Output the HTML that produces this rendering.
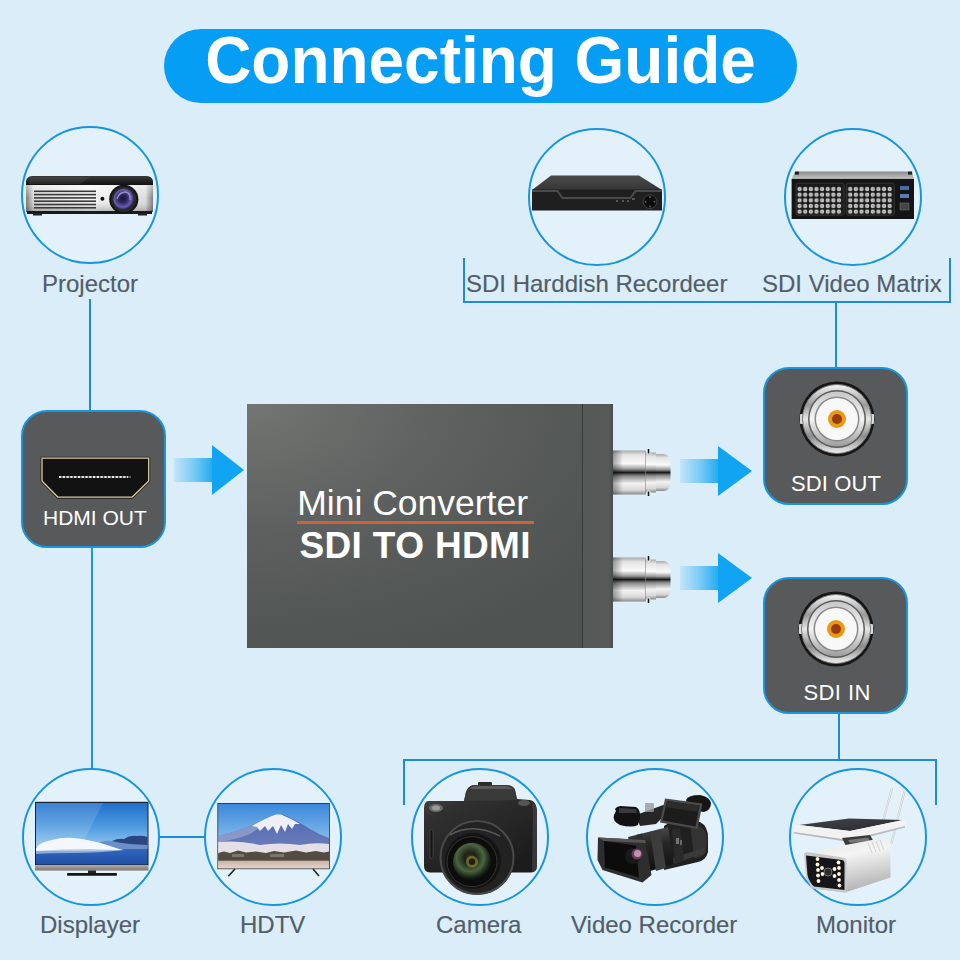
<!DOCTYPE html>
<html><head><meta charset="utf-8">
<style>
*{margin:0;padding:0;box-sizing:border-box}
html,body{width:960px;height:960px;overflow:hidden}
body{position:relative;background:#DAEDF8;font-family:"Liberation Sans",sans-serif}
.a{position:absolute}
.ln{position:absolute;background:#1E8BDA}
.lbl{position:absolute;font-size:24px;line-height:24px;color:#525D67;white-space:nowrap;-webkit-text-stroke:0.15px #525D67}
.circ{position:absolute;width:138px;height:138px;border-radius:50%;border:2.8px solid #1595E2;background:#E3F1FA}
.box{position:absolute;width:145px;height:138px;border-radius:26px;border:2.6px solid #1A95DF;background:#57595A}
.wl{position:absolute;font-size:21px;line-height:21px;color:#fff;white-space:nowrap}
svg{position:absolute;overflow:visible}
</style></head><body>

<!-- title -->
<div class="a" style="left:164px;top:29px;width:633px;height:74px;border-radius:37px;background:#069DF4"></div>
<div class="a" style="left:164px;top:23px;width:633px;height:74px;line-height:74px;text-align:center;color:#fff;font-weight:bold;font-size:66px;transform:scaleX(0.969)">Connecting Guide</div>

<!-- lines -->
<div class="ln" style="left:89px;top:299px;width:2px;height:112px"></div>
<div class="ln" style="left:90.5px;top:546px;width:2px;height:224px;background:#1C96E2"></div>
<div class="ln" style="left:463px;top:258px;width:2px;height:45px"></div>
<div class="ln" style="left:463px;top:301px;width:487px;height:2px"></div>
<div class="ln" style="left:949px;top:258px;width:2px;height:45px"></div>
<div class="ln" style="left:835px;top:301px;width:2px;height:67px"></div>
<div class="ln" style="left:159px;top:836px;width:47px;height:2px"></div>
<div class="ln" style="left:403px;top:759px;width:534px;height:2px"></div>
<div class="ln" style="left:403px;top:759px;width:2px;height:46px"></div>
<div class="ln" style="left:935px;top:759px;width:2px;height:46px"></div>
<div class="ln" style="left:838px;top:713px;width:2px;height:47px"></div>

<!-- circles -->
<div class="circ" style="left:21px;top:125.5px"></div>
<div class="circ" style="left:528px;top:128px"></div>
<div class="circ" style="left:784px;top:127.6px"></div>
<div class="circ" style="left:22px;top:768px"></div>
<div class="circ" style="left:204px;top:768px"></div>
<div class="circ" style="left:411px;top:768px"></div>
<div class="circ" style="left:586px;top:768px"></div>
<div class="circ" style="left:789px;top:768px"></div>

<!-- labels -->
<div class="lbl" style="left:42px;top:272px">Projector</div>
<div class="lbl" style="left:466px;top:272px">SDI Harddish Recordeer</div>
<div class="lbl" style="left:762px;top:272px">SDI Video Matrix</div>
<div class="lbl" style="left:40px;top:913px">Displayer</div>
<div class="lbl" style="left:240px;top:913px">HDTV</div>
<div class="lbl" style="left:436px;top:913px">Camera</div>
<div class="lbl" style="left:571px;top:913px">Video Recorder</div>
<div class="lbl" style="left:816px;top:913px">Monitor</div>

<!-- HDMI OUT box -->
<div class="box" style="left:21px;top:410px;height:138px"></div>
<svg style="left:0;top:0" width="960" height="960">
  <path d="M42,458.2 L148.7,458.2 L148.7,481 L132,497.2 L58,497.2 L42,481 Z" fill="#121212" stroke="#1a1a1a" stroke-width="3" stroke-linejoin="round"/>
  <path d="M42,458.2 L148.7,458.2 L148.7,481 L132,497.2 L58,497.2 L42,481 Z" fill="#121212" stroke="#DCCBA2" stroke-width="1.3" stroke-linejoin="round"/>
  <line x1="59" y1="477" x2="131" y2="477" stroke="#555" stroke-width="2.2"/>
  <line x1="59" y1="477" x2="128" y2="477" stroke="#e8e8e8" stroke-width="2" stroke-dasharray="2.2 1.58"/>
</svg>
<div class="wl" style="left:43px;top:507px;font-size:21px">HDMI OUT</div>

<!-- device -->
<div class="a" style="left:247px;top:404px;width:366px;height:244px;background:radial-gradient(ellipse 120% 110% at 0% 0%,#737573 0%,#5E615F 45%,#545857 75%,#4F5352 100%)"></div>
<div class="a" style="left:582px;top:404px;width:1px;height:244px;background:#3A3C3C"></div>
<div class="a" style="left:583px;top:404px;width:30px;height:244px;background:linear-gradient(90deg,#555958,#575A59 85%,#4A4D4D)"></div>
<div class="a" style="left:297.2px;top:486.3px;color:#fff;font-size:35.5px;line-height:35px;white-space:nowrap">Mini Converter</div>
<div class="a" style="left:297px;top:521.3px;width:237px;height:2.6px;background:#CC6438"></div>
<div class="a" style="left:299.5px;top:527px;color:#fff;font-weight:bold;font-size:37px;line-height:37px;white-space:nowrap;letter-spacing:0.35px">SDI TO HDMI</div>

<!-- BNC connectors -->
<svg style="left:0;top:0" width="960" height="960">
  <defs>
    <linearGradient id="chrome" x1="0" y1="0" x2="0" y2="1">
      <stop offset="0" stop-color="#a8a8a8"/>
      <stop offset="0.1" stop-color="#e4e4e4"/>
      <stop offset="0.3" stop-color="#fafafa"/>
      <stop offset="0.42" stop-color="#9a9a9a"/>
      <stop offset="0.5" stop-color="#1a1a1a"/>
      <stop offset="0.58" stop-color="#8a8a8a"/>
      <stop offset="0.75" stop-color="#f2f2f2"/>
      <stop offset="0.9" stop-color="#d8d8d8"/>
      <stop offset="1" stop-color="#8a8a8a"/>
    </linearGradient>
    <linearGradient id="bncShade" x1="0" y1="0" x2="1" y2="0">
      <stop offset="0" stop-color="#000" stop-opacity="0.35"/><stop offset="1" stop-color="#000" stop-opacity="0"/>
    </linearGradient>
    <linearGradient id="arrowg" x1="0" y1="0" x2="1" y2="0">
      <stop offset="0" stop-color="#C4E5F9"/>
      <stop offset="0.5" stop-color="#7CCBF5"/>
      <stop offset="1" stop-color="#22AAF3"/>
    </linearGradient>
  </defs>
  <g id="bnc1">
    <rect x="613" y="450.5" width="33" height="44" fill="url(#chrome)"/>
    <rect x="613" y="450.5" width="10" height="44" fill="url(#bncShade)"/>
    <rect x="645" y="452.5" width="11" height="40" fill="url(#chrome)"/>
    <rect x="645" y="452.5" width="1" height="40" fill="#888" opacity="0.6"/>
    <path d="M656,454 L664,454 Q670,455 670.5,462 L670.5,483 Q670,490 664,491 L656,491 Z" fill="url(#chrome)"/>
    <rect x="646.5" y="448.5" width="4" height="6" rx="1.5" fill="#f0f0f0"/>
    <rect x="647.7" y="449" width="1.6" height="4.5" fill="#111"/>
    <rect x="646.5" y="490.5" width="4" height="6" rx="1.5" fill="#f0f0f0"/>
    <rect x="647.7" y="491.5" width="1.6" height="4.5" fill="#111"/>
  </g>
  <use href="#bnc1" y="107"/>
  <!-- arrows -->
  <path d="M174,458 L213,458 L213,482 L174,482 Z" fill="url(#arrowg)"/>
  <path d="M212,445 L244,470 L212,495 Z" fill="#10A4F3"/>
  <path d="M680,459 L719,459 L719,483 L680,483 Z" fill="url(#arrowg)"/>
  <path d="M718,446 L752,471 L718,496 Z" fill="#10A4F3"/>
  <path d="M680,566 L719,566 L719,590 L680,590 Z" fill="url(#arrowg)"/>
  <path d="M718,553 L752,578 L718,603 Z" fill="#10A4F3"/>
</svg>

<!-- SDI boxes -->
<div class="box" style="left:763px;top:367px;height:138px"></div>
<div class="box" style="left:763px;top:577px;height:137px"></div>
<svg style="left:0;top:0" width="960" height="960">
  <defs>
    <linearGradient id="silv" x1="0" y1="0" x2="0" y2="1">
      <stop offset="0" stop-color="#f4f4f4"/>
      <stop offset="0.3" stop-color="#9a9a9a"/>
      <stop offset="0.5" stop-color="#e8e8e8"/>
      <stop offset="0.75" stop-color="#8c8c8c"/>
      <stop offset="1" stop-color="#f0f0f0"/>
    </linearGradient>
    <linearGradient id="silv2" x1="0" y1="0" x2="0" y2="1">
      <stop offset="0" stop-color="#c8c8c8"/>
      <stop offset="0.5" stop-color="#f4f4f4"/>
      <stop offset="1" stop-color="#9c9c9c"/>
    </linearGradient>
    <g id="port">
      <circle r="37.5" fill="#161616"/>
      <rect x="-37" y="-5" width="4" height="10" rx="1" fill="#d8d8d8"/>
      <rect x="33" y="-5" width="4" height="10" rx="1" fill="#d8d8d8"/>
      <circle r="34.5" fill="url(#silv)"/>
      <circle r="34.5" fill="none" stroke="#7a7a7a" stroke-width="1"/>
      <circle r="29" fill="#5a5a5a"/>
      <circle r="27.5" fill="url(#silv2)"/>
      <circle r="22.5" fill="#8a8a8a"/>
      <circle r="21" fill="#f8f8f8"/>
      <circle r="9" fill="#E99A12"/>
      <circle r="5" fill="#9A3A12"/>
    </g>
  </defs>
  <use href="#port" x="837" y="419"/>
  <use href="#port" x="836" y="629"/>
</svg>
<div class="wl" style="left:791px;top:473px;font-size:22px;letter-spacing:0.1px">SDI OUT</div>
<div class="wl" style="left:803.5px;top:682px;font-size:22px;letter-spacing:0.4px">SDI IN</div>


<!-- product icons -->
<svg style="left:0;top:0" width="960" height="960">
  <defs>
    <linearGradient id="pjTop" x1="0" y1="0" x2="0" y2="1">
      <stop offset="0" stop-color="#3a3a3a"/><stop offset="1" stop-color="#0c0c0c"/>
    </linearGradient>
    <linearGradient id="pjBody" x1="0" y1="0" x2="1" y2="0">
      <stop offset="0" stop-color="#777"/><stop offset="0.06" stop-color="#d8d8d8"/>
      <stop offset="0.5" stop-color="#f4f4f4"/><stop offset="0.94" stop-color="#dcdcdc"/><stop offset="1" stop-color="#7a7a7a"/>
    </linearGradient>
    <linearGradient id="pjShade" x1="0" y1="0" x2="0" y2="1">
      <stop offset="0" stop-color="#fff" stop-opacity="0.5"/><stop offset="0.5" stop-color="#fff" stop-opacity="0"/><stop offset="1" stop-color="#000" stop-opacity="0.25"/>
    </linearGradient>
    <radialGradient id="pjLens" cx="0.45" cy="0.45" r="0.6">
      <stop offset="0" stop-color="#181530"/><stop offset="0.35" stop-color="#2e2860"/><stop offset="0.7" stop-color="#6a5cb0"/><stop offset="0.9" stop-color="#2a2450"/><stop offset="1" stop-color="#100c18"/>
    </radialGradient>
  </defs>
  <!-- projector -->
  <path d="M26,186 L26,181 Q27,176 33,176 L146,176 Q152,176 153,181 L153,186 Z" fill="url(#pjTop)"/>
  <path d="M30,177 L90,177 Q85,181 80,184 L28,184 Z" fill="#fff" opacity="0.08"/>
  <rect x="26" y="185" width="127" height="27" fill="url(#pjBody)"/>
  <rect x="26" y="185" width="127" height="27" fill="url(#pjShade)"/>
  <rect x="27" y="211" width="125" height="3" fill="#1a1a1a"/>
  <rect x="33" y="213" width="9" height="2.5" fill="#222"/>
  <rect x="138" y="213" width="9" height="2.5" fill="#222"/>
  <g fill="#3a3a3a">
    <rect x="34" y="190.5" width="62" height="1.6"/><rect x="34" y="193.8" width="62" height="1.6"/>
    <rect x="34" y="197.1" width="62" height="1.6"/><rect x="34" y="200.4" width="62" height="1.6"/>
    <rect x="34" y="203.7" width="62" height="1.6"/><rect x="34" y="207" width="62" height="1.6"/>
  </g>
  <circle cx="102.4" cy="198.8" r="2" fill="#111"/>
  <circle cx="123.8" cy="199.3" r="14.6" fill="#151515"/>
  <circle cx="123.8" cy="199.3" r="12.5" fill="#2a2a2a"/>
  <circle cx="123.8" cy="199.3" r="10.5" fill="url(#pjLens)"/>
  <path d="M117,199 Q119,192 126,192 Q131,194 130,200" stroke="#c0b0f0" stroke-width="1.3" fill="none" opacity="0.7"/>

  <!-- DVR -->
  <defs><linearGradient id="dvrTop" x1="0" y1="0" x2="0" y2="1"><stop offset="0" stop-color="#4a4a4a"/><stop offset="1" stop-color="#363636"/></linearGradient></defs>
  <path d="M551,175.5 L639,175.5 L662,190 L532,190 Z" fill="url(#dvrTop)"/>
  <rect x="532" y="189.5" width="130" height="21" fill="#1f1f1f"/>
  <path d="M532,190 L558,190 L563,197 L630,197 L635,190 L662,190 L662,192 L636,192 L631,199 L562,199 L557,192 L532,192 Z" fill="#4a4a4a"/>
  <circle cx="650" cy="201.7" r="6.8" fill="#0d0d0d" stroke="#4a4a4a" stroke-width="0.8"/>
  <g fill="#666"><circle cx="650" cy="197" r="0.9"/><circle cx="650" cy="206.4" r="0.9"/><circle cx="645.5" cy="201.7" r="0.9"/><circle cx="654.5" cy="201.7" r="0.9"/></g>
  <g fill="#555"><rect x="616" y="200" width="2" height="2"/><rect x="622" y="200" width="2" height="2"/><rect x="627" y="200" width="2" height="2"/><rect x="632" y="198" width="3" height="2"/></g>

  <!-- video matrix -->
  <defs>
    <linearGradient id="mxTop" x1="0" y1="0" x2="0" y2="1">
      <stop offset="0" stop-color="#8a8a8a"/><stop offset="1" stop-color="#c4c4c4"/>
    </linearGradient>
    <pattern id="mxDots" x="796.8" y="186.2" width="5.63" height="5.65" patternUnits="userSpaceOnUse">
      <circle cx="2.8" cy="2.8" r="2.15" fill="#cfcfcf"/>
      <circle cx="2.8" cy="2.8" r="0.7" fill="#6a6a6a"/>
    </pattern>
  </defs>
  <path d="M795,171.6 L912,171.6 L914,179 L791.6,179 Z" fill="url(#mxTop)"/>
  <rect x="795" y="171.6" width="4" height="3" fill="#222"/><rect x="908" y="171.6" width="4" height="3" fill="#222"/>
  <rect x="791.6" y="178.9" width="122.4" height="40.1" fill="#141414"/>
  <rect x="796" y="183.2" width="48" height="32" rx="2" fill="#1a1a1a" stroke="#555" stroke-width="0.5"/>
  <rect x="846.3" y="183.2" width="48" height="32" rx="2" fill="#1a1a1a" stroke="#555" stroke-width="0.5"/>
  <rect x="796.8" y="186.2" width="45.1" height="28.3" fill="url(#mxDots)"/>
  <rect x="847.2" y="186.2" width="45.1" height="28.3" fill="url(#mxDots)" transform="translate(0,0)"/>
  <rect x="900" y="186" width="9" height="4" fill="#4a6aa8"/>
  <rect x="900" y="194" width="9" height="4" fill="#5a7ab8"/>
  <rect x="900" y="203" width="9" height="7" fill="#444" stroke="#777" stroke-width="0.5"/>

  <!-- displayer -->
  <defs>
    <linearGradient id="dpSky" x1="0" y1="0" x2="0" y2="1">
      <stop offset="0" stop-color="#1F6FCC"/><stop offset="0.5" stop-color="#4C98DE"/><stop offset="1" stop-color="#95C9F0"/>
    </linearGradient>
    <linearGradient id="dpSea" x1="0" y1="0" x2="0" y2="1">
      <stop offset="0" stop-color="#3468C0"/><stop offset="1" stop-color="#1F4FA6"/>
    </linearGradient>
    <linearGradient id="dpBez" x1="0" y1="0" x2="0" y2="1">
      <stop offset="0" stop-color="#b4aea6"/><stop offset="1" stop-color="#7c7670"/>
    </linearGradient>
  </defs>
  <rect x="35" y="801.8" width="113.5" height="63.7" fill="#1a2230"/>
  <rect x="36" y="803" width="111.5" height="45" fill="url(#dpSky)"/>
  <path d="M36,803 L103,803 L72,864 L36,864 Z" fill="#fff" opacity="0.13"/>
  <rect x="36" y="847" width="111.5" height="17.5" fill="url(#dpSea)"/>
  <path d="M112,841 Q118,838 124,839 Q130,834.5 137,836 Q142,835 147.5,837 L147.5,848 L108,848 Z" fill="#2a4680"/>
  <path d="M100,842 Q106,840 112,841 Q120,843 130,844 L147.5,845 L147.5,849 L100,849 Z" fill="#6d8fc8"/>
  <path d="M36,848 Q40,842 52,840 Q62,837 74,838 Q84,839 92,841 Q102,843 110,846 Q118,849 124,850 L90,851 Q60,851 36,851 Z" fill="#f4f7fb"/>
  <path d="M36,851 Q60,849 90,849 Q110,850 124,850 Q100,853 70,853 Q50,853 36,854 Z" fill="#a8bfe0" opacity="0.8"/>
  <rect x="35" y="865" width="113.5" height="5.5" fill="url(#dpBez)"/>
  <rect x="88" y="870.5" width="8" height="3" fill="#222"/>
  <rect x="67" y="873" width="50" height="2.7" rx="1" fill="#151515"/>

  <!-- HDTV -->
  <defs>
    <linearGradient id="tvSky" x1="0" y1="0" x2="0" y2="1">
      <stop offset="0" stop-color="#3A88DC"/><stop offset="0.5" stop-color="#7DB6E8"/><stop offset="1" stop-color="#BFD8EE"/>
    </linearGradient>
    <linearGradient id="tvMt" x1="0" y1="0" x2="0" y2="1">
      <stop offset="0" stop-color="#4E6AB6"/><stop offset="1" stop-color="#6E7CB8"/>
    </linearGradient>
    <linearGradient id="tvLake" x1="0" y1="0" x2="0" y2="1">
      <stop offset="0" stop-color="#C9B2A6"/><stop offset="1" stop-color="#E6D4C8"/>
    </linearGradient>
  </defs>
  <rect x="217.4" y="803.1" width="112.4" height="66.1" fill="#2a2a2e"/>
  <rect x="218.2" y="804" width="110.8" height="64.3" fill="url(#tvSky)"/>
  <path d="M218.2,836 Q235,832 250,826 Q265,819 275,815 L283,814.6 Q296,820 310,829 Q320,835 329,838 L329,850 L218.2,850 Z" fill="url(#tvMt)"/>
  <path d="M218.2,836 Q235,832 250,826 Q265,819 275,815 L279,815 Q262,826 250,834 Q235,840 218.2,842 Z" fill="#9aa6cc" opacity="0.7"/>
  <path d="M252,826 Q266,818 276,814.5 L281,814.5 Q290,818 300,824 L295,824 L292,829 L288,824 L285,832 L281,825 L277,834 L273,826 L268,831 L265,826 L260,831 L257,827 Z" fill="#eef0f8"/>
  <path d="M218.2,842 Q240,840 260,845 Q280,842 300,845 Q315,842 329,844 L329,854 L218.2,854 Z" fill="#e6dfe8"/>
  <path d="M218.2,853 L224,851.5 L230,853 L238,850.5 L246,852.5 L256,851.5 L266,853 L274,851 L284,852.5 L296,850.5 L306,852.5 L316,851 L324,852.5 L329,851.5 L329,861 L218.2,861 Z" fill="#544c42"/>
  <rect x="232" y="854" width="12" height="3" fill="#9a9088" opacity="0.6"/>
  <rect x="270" y="854" width="14" height="3" fill="#a89e94" opacity="0.5"/>
  <rect x="218.2" y="860.7" width="110.8" height="7.6" fill="url(#tvLake)"/>
  <path d="M235,869 L228.3,876.2" stroke="#222" stroke-width="1.6"/>
  <path d="M313,869 L319,876" stroke="#222" stroke-width="1.6"/>
</svg>


<!-- camera / camcorder / security cam -->
<svg style="left:0;top:0" width="960" height="960">
  <defs>
    <linearGradient id="camBody" x1="0" y1="0" x2="0.6" y2="1">
      <stop offset="0" stop-color="#505050"/><stop offset="0.3" stop-color="#303030"/><stop offset="1" stop-color="#1c1c1c"/>
    </linearGradient>
    <radialGradient id="camGlass" cx="0.45" cy="0.4" r="0.6">
      <stop offset="0" stop-color="#3a3a18"/><stop offset="0.25" stop-color="#1c2216"/><stop offset="0.6" stop-color="#4a6440"/><stop offset="0.85" stop-color="#1a2418"/><stop offset="1" stop-color="#0a0a0a"/>
    </radialGradient>
    <linearGradient id="secBody" x1="0" y1="0" x2="0" y2="1">
      <stop offset="0" stop-color="#d8d8d8"/><stop offset="0.35" stop-color="#f6f6f6"/><stop offset="1" stop-color="#c4c4c4"/>
    </linearGradient>
  </defs>
  <!-- DSLR -->
  <path d="M428,801 Q424,802 424,808 L424,866 Q424,872 430,872.5 L531,872.5 Q537,872 537,866 L537,810 Q536,801 530,800 L517,799 L515,790 Q513,785 505,785 L474,785 Q468,786 466,792 L464,801 Z" fill="url(#camBody)"/>
  <path d="M466,792 Q468,786 474,785 L505,785 Q513,785 515,790 L517,800 L464,801 Z" fill="#3a3a3a"/>
  <path d="M470,789 Q472,786 476,786 L504,786 Q510,786 512,789 Z" fill="#5a5a5a"/>
  <path d="M530,801 Q537,804 537,812 L537,866 Q536,871 532,872 L533,812 Q533,805 530,801 Z" fill="#4a4a4a" opacity="0.6"/>
  <rect x="478" y="782" width="14" height="3.5" rx="1" fill="#2a2a2a"/>
  <ellipse cx="436" cy="808" rx="7" ry="4" fill="#6a6a6a"/>
  <ellipse cx="436" cy="808" rx="4" ry="2.5" fill="#9a9a9a"/>
  <ellipse cx="524" cy="803" rx="6" ry="3" fill="#555"/>
  <rect x="430" y="830" width="3" height="28" rx="1.5" fill="#151515" stroke="#555" stroke-width="0.6"/>
  <circle cx="477" cy="857.5" r="37.5" fill="#222"/>
  <circle cx="477" cy="857.5" r="36.5" fill="none" stroke="#4a4a4a" stroke-width="2"/>
  <circle cx="473" cy="861" r="28" fill="#141414"/>
  <circle cx="472" cy="861.7" r="25" fill="#0c0c0c" stroke="#333" stroke-width="1"/>
  <circle cx="472" cy="861.7" r="19" fill="url(#camGlass)"/>
  <circle cx="472" cy="861.7" r="6" fill="#8a8030" opacity="0.7"/>
  <circle cx="472" cy="861.7" r="3.2" fill="#20200e"/>
  <path d="M450,835 Q472,822 500,836" stroke="#5a5a5a" stroke-width="1.5" fill="none"/>

  <!-- camcorder -->
  <defs>
    <linearGradient id="ccBarrel" x1="0" y1="0" x2="0" y2="1">
      <stop offset="0" stop-color="#4a4a4a"/><stop offset="0.35" stop-color="#262626"/><stop offset="1" stop-color="#0e0e0e"/>
    </linearGradient>
  </defs>
  <!-- body -->
  <path d="M664,826 Q672,819 690,820 L700,822 Q708,826 708,838 L708,852 Q706,860 698,862 L664,870 Z" fill="#202020"/>
  <path d="M690,822 Q707,826 707,840 L706,852 Q702,858 694,858 Z" fill="#333"/>
  <path d="M663,861 L704,848 L705,853 L665,867 Z" fill="#3a3a3a"/>
  <!-- barrel -->
  <path d="M628,837 L668,827 L674,864 L640,874 Z" fill="url(#ccBarrel)"/>
  <path d="M650,832 L660,829.5 L666,868 L656,871 Z" fill="#3c3c3c"/>
  <path d="M636,835 L642,833.5 L648,872 L641,874 Z" fill="#2e2e2e"/>
  <path d="M672,829 L680,828 L684,860 L675,863 Z" fill="#2a2a2a"/>
  <rect x="676" y="838" width="3" height="6" fill="#777"/>
  <rect x="680" y="840" width="2" height="5" fill="#666"/>
  <!-- handle + mic -->
  <path d="M636,815 L666,804 L670,810 L656,824 L640,826 Z" fill="#262626"/>
  <rect x="645" y="803" width="9" height="9" rx="1" fill="#9a9a9a" opacity="0.8"/>
  <path d="M616,811 Q613,808 620,806 L636,807 Q641,810 640,818 L638,825 Q632,828 620,825 Q612,821 614,815 Z" fill="#121212"/>
  <path d="M619,808 L636,809 L637,813 L619,813 Z" fill="#3a3a3a"/>
  <!-- eyepiece -->
  <path d="M686,800 Q688,795 700,795 Q710,797 711,803 Q711,810 704,812 L690,810 Z" fill="#161616"/>
  <!-- LCD -->
  <path d="M665,798.5 L702.5,803.5 L697.5,829 L660,822.5 Z" fill="#4a4a4a"/>
  <path d="M667,801 L699.5,805.5 L695.5,826.5 L662.5,820.5 Z" fill="#1c1c1c"/>
  <path d="M667,801 L699.5,805.5 L698,812 L665,807 Z" fill="#2c2c2c"/>
  <!-- hood -->
  <path d="M598,837.5 L645,840 L651.5,875 L642.5,882.5 L602.5,870 L597.5,860 Z" fill="#2e2e2e"/>
  <path d="M604,841 L636,845.5 L639,877.5 L605,867.5 Z" fill="#0c0c0c"/>
  <path d="M598,837.5 L645,840 L646,843 L604,841 Z" fill="#555"/>
  <circle cx="633" cy="856" r="8" fill="#1a1a1a"/>
  <circle cx="637" cy="854" r="5.5" fill="#6a3a58"/>
  <circle cx="637.5" cy="853.5" r="3.5" fill="#d8a8c8" opacity="0.8"/>
  <!-- security camera -->
  <defs>
    <linearGradient id="secBody2" x1="0" y1="0" x2="0.3" y2="1">
      <stop offset="0" stop-color="#e4e4e4"/><stop offset="0.4" stop-color="#f4f4f4"/><stop offset="0.75" stop-color="#d2d2d2"/><stop offset="1" stop-color="#b8b8b8"/>
    </linearGradient>
    <linearGradient id="panelTop" x1="0" y1="0" x2="1" y2="1">
      <stop offset="0" stop-color="#44464c"/><stop offset="1" stop-color="#26282c"/>
    </linearGradient>
  </defs>
  <line x1="892" y1="788" x2="883.4" y2="820" stroke="#c4c4c4" stroke-width="2"/>
  <line x1="904.5" y1="791" x2="891.4" y2="843.5" stroke="#c4c4c4" stroke-width="2"/>
  <line x1="892" y1="788" x2="883.4" y2="820" stroke="#f4f4f4" stroke-width="0.9"/>
  <line x1="904.5" y1="791" x2="891.4" y2="843.5" stroke="#f4f4f4" stroke-width="0.9"/>
  <path d="M799,825 L849,818.5 L903,820 L850,831 Z" fill="url(#panelTop)"/>
  <path d="M794,826 L799,825 L850,831 L903,820 L906,820.5 L905,826 L849,840 L794,832 Z" fill="#f2f2f2"/>
  <path d="M794,832 L849,840 L905,826 L905,827.5 L849,842 L794,833.5 Z" fill="#b8b8b8"/>
  <path d="M842,838 L870,835 L874,842 L846,846 Z" fill="#3a3a3a"/>
  <path d="M848,840 L868,837.5 L870,841 L850,843 Z" fill="#777"/>
  <path d="M816,850.5 L880,838.5 Q889,838 890,846 L890.6,877.5 L845,892.4 L810,888 Z" fill="url(#secBody2)"/>
  <g stroke="#bcbcbc" stroke-width="0.6">
    <line x1="868" y1="843" x2="872" y2="853"/><line x1="872" y1="842" x2="876" y2="852"/><line x1="876" y1="841" x2="880" y2="851"/><line x1="880" y1="840" x2="884" y2="850"/>
  </g>
  <path d="M804,854 Q804,852 807,852 L843,857.5 Q846,858 846.5,861 L846.5,892.4 L813,888.5 Q808,884 806,876 Z" fill="#c8c8c8"/>
  <path d="M806,855.5 L842,860 Q844.5,860.5 844.5,863 L844.5,890 L814,886.5 Q809,882 807.5,875 Z" fill="#16161a"/>
  <g fill="#fff6dc">
    <circle cx="817.5" cy="859" r="1.9"/><circle cx="817.5" cy="864.5" r="1.9"/><circle cx="818" cy="870" r="1.9"/><circle cx="818" cy="875.5" r="1.9"/><circle cx="818.5" cy="881" r="1.9"/>
    <circle cx="822" cy="868" r="1.9"/><circle cx="822.5" cy="874" r="1.9"/>
    <circle cx="838.5" cy="862.5" r="1.9"/><circle cx="839" cy="868" r="1.9"/><circle cx="839" cy="874" r="1.9"/><circle cx="839" cy="880" r="1.9"/><circle cx="839.5" cy="885.5" r="1.9"/>
    <circle cx="834.5" cy="869" r="1.9"/><circle cx="834.5" cy="876" r="1.9"/>
  </g>
  <circle cx="828" cy="872" r="4" fill="#2a2a30" stroke="#8a8a8a" stroke-width="0.8"/>
</svg>

</body></html>
